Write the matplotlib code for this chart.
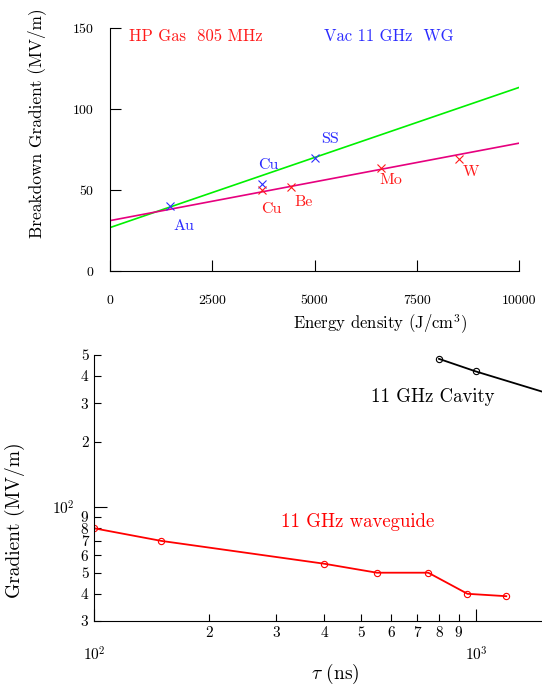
import matplotlib
matplotlib.use("Agg")
import matplotlib.pyplot as plt

plt.rcParams['font.family'] = 'serif'
plt.rcParams['font.serif'] = ['cmr10', 'DejaVu Serif']
plt.rcParams['mathtext.fontset'] = 'cm'
plt.rcParams['axes.unicode_minus'] = False

# top panel: breakdown gradient vs energy density
hp_x = [3724, 4414, 6622, 8543]
hp_y = [49.7, 52.1, 63.5, 69.4]
hp_names = ['Cu', 'Be', 'Mo', 'W']
vac_x = [1466, 3724, 5004]
vac_y = [40.2, 53.6, 69.6]
vac_names = ['Au', 'Cu', 'SS']
fit_x = [0, 10000]
fit_vac = [26.8, 113.3]
fit_hp = [31.1, 78.9]

# label positions (data coords)
hp_lab_x = [3934, 4726, 6858, 8820]
hp_lab_y = [38.1, 42.4, 55.8, 60.8]
vac_lab_x = [1803, 3867, 5383]
vac_lab_y = [27.8, 65.1, 81.6]

# bottom panel: gradient vs pulse length
wg_tau = [100, 150, 400, 550, 750, 950, 1200]
wg_grad = [80, 70, 55, 50, 50, 40, 39]
cav_tau = [800, 1000, 2000]
cav_grad = [480, 420, 290]

RED = '#ff1a1a'
BLUE = '#2b2bff'
PINK = '#e6007e'
GREEN = '#00f000'

fig = plt.figure(figsize=(5.42, 6.86), dpi=100)

ax1 = fig.add_axes([110/542, 1 - 271/686, 409/542, 243/686])
ax1.plot(fit_x, fit_vac, color=GREEN, lw=1.2)
ax1.plot(fit_x, fit_hp, color=PINK, lw=1.2)
ax1.plot(vac_x, vac_y, 'x', color=BLUE, ms=6, mew=0.8)
ax1.plot(hp_x, hp_y, 'x', color=RED, ms=6, mew=0.8)
for n, x, y in zip(vac_names, vac_lab_x, vac_lab_y):
    ax1.text(x, y, n, color=BLUE, fontsize=11.5, ha='center', va='center')
for n, x, y in zip(hp_names, hp_lab_x, hp_lab_y):
    ax1.text(x, y, n, color=RED, fontsize=11.5, ha='center', va='center')
ax1.text(2106, 144.9, 'HP Gas  805 MHz', color=RED, fontsize=12, ha='center', va='center')
ax1.text(6816, 144.9, 'Vac 11 GHz  WG', color=BLUE, fontsize=12, ha='center', va='center')
ax1.set_xlim(0, 10000)
ax1.set_ylim(0, 150)
ax1.set_xticks([0, 2500, 5000, 7500, 10000])
ax1.set_yticks([0, 50, 100, 150])
ax1.tick_params(direction='in', length=8, width=0.8, labelsize=10, color='black')
ax1.tick_params(axis='x', pad=17)
ax1.tick_params(axis='y', pad=12)
for s in ['top', 'right']:
    ax1.spines[s].set_visible(False)
ax1.set_ylabel('Breakdown Gradient (MV/m)', fontsize=12.5)
ax1.yaxis.set_label_coords(-0.156, 0.61)
ax1.set_xlabel('Energy density (J/cm$^3$)', fontsize=12)
ax1.xaxis.set_label_coords(0.66, -0.17)

# bottom panel, right edge runs past the figure
ax2 = fig.add_axes([94/542, 1 - 621/686, 497/542, 266/686])
ax2.plot(wg_tau, wg_grad, '-o', color='red', lw=1.3, ms=4.5, mfc='none', mew=0.8)
ax2.plot(cav_tau, cav_grad, '-o', color='black', lw=1.3, ms=4.5, mfc='none', mew=0.8)
ax2.set_xscale('log')
ax2.set_yscale('log')
ax2.set_xlim(100, 2000)
ax2.set_ylim(30, 500)
ax2.set_xticks([100, 1000], ['$10^2$', '$10^3$'])
ax2.set_xticks([200, 300, 400, 500, 600, 700, 800, 900],
               ['2', '3', '4', '5', '6', '7', '8', '9'], minor=True)
ax2.set_yticks([100], ['$10^2$'])
ax2.set_yticks([30, 40, 50, 60, 70, 80, 90, 200, 300, 400, 500],
               ['3', '4', '5', '6', '7', '8', '9', '2', '3', '4', '5'], minor=True)
ax2.tick_params(which='both', direction='in', width=0.8, labelsize=11)
ax2.tick_params(which='major', length=9)
ax2.tick_params(which='minor', length=5)
ax2.tick_params(axis='x', which='minor', pad=4)
ax2.tick_params(axis='x', which='major', pad=18)
ax2.tick_params(axis='y', which='minor', pad=4)
ax2.tick_params(axis='y', which='major', pad=14)
for s in ['top', 'right']:
    ax2.spines[s].set_visible(False)
ax2.text(490, 85.3, '11 GHz waveguide', color='red', fontsize=13.5, ha='center', va='center')
ax2.text(771, 320, '11 GHz Cavity', color='black', fontsize=13.5, ha='center', va='center')
ax2.set_ylabel('Gradient (MV/m)', fontsize=14)
ax2.yaxis.set_label_coords(-0.139, 0.38)
ax2.set_xlabel(r'$\tau$ (ns)', fontsize=14)
ax2.xaxis.set_label_coords(0.485, -0.155)

fig.savefig('out.png', dpi=100)
